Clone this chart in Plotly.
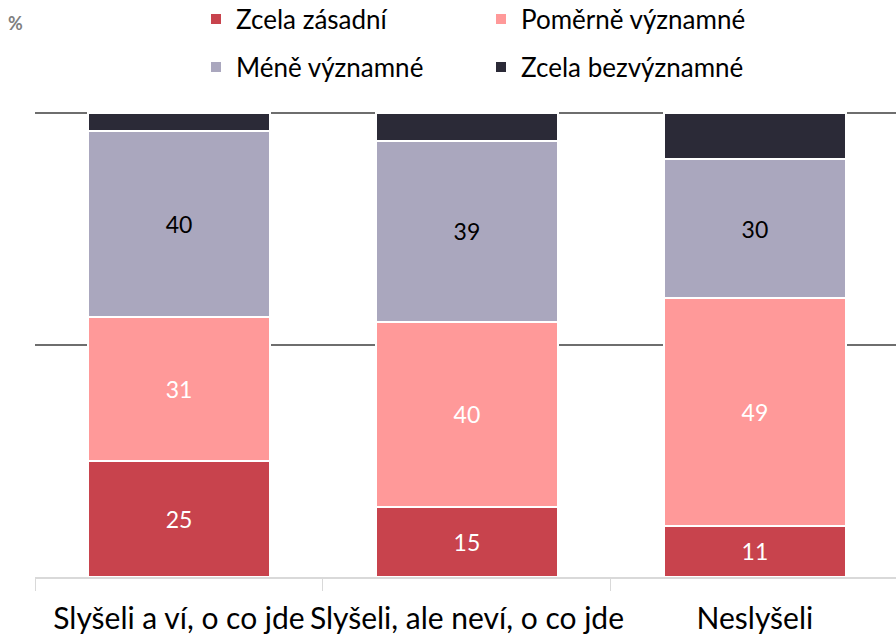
import plotly.graph_objects as go

categories = ["Slyšeli a ví, o co jde", "Slyšeli, ale neví, o co jde", "Neslyšeli"]
series_names = ["Zcela zásadní", "Poměrně významné", "Méně významné", "Zcela bezvýznamné"]
zcela_zasadni = [25, 15, 11]
pomerne_vyznamne = [31, 40, 49]
mene_vyznamne = [40, 39, 30]
zcela_bezvyznamne = [4, 6, 10]

colors = ["#C8434D", "#FF9999", "#AAA7BE", "#2B2A37"]
label_colors = ["white", "white", "black", "black"]
show_labels = [True, True, True, False]
legend_ids = ["legend", "legend", "legend2", "legend2"]
FONT = "Lato"

fig = go.Figure()
for name, vals, col, lc, show, lg in zip(
    series_names,
    [zcela_zasadni, pomerne_vyznamne, mene_vyznamne, zcela_bezvyznamne],
    colors, label_colors, show_labels, legend_ids,
):
    fig.add_trace(go.Bar(
        name=name,
        x=categories,
        y=vals,
        width=0.63,
        marker=dict(color=col, line=dict(color="white", width=2)),
        text=[str(v) for v in vals] if show else None,
        textposition="inside" if show else "none",
        insidetextanchor="middle",
        textfont=dict(color=lc, size=23, family=FONT),
        constraintext="none",
        legend=lg,
        hoverinfo="skip",
    ))

legend_common = dict(
    orientation="h",
    xanchor="left",
    yanchor="middle",
    xref="container",
    yref="container",
    font=dict(size=26, family=FONT, color="black"),
    bgcolor="rgba(0,0,0,0)",
    entrywidth=240,
    entrywidthmode="pixels",
    itemwidth=30,
    traceorder="normal",
)

fig.update_layout(
    width=896,
    height=636,
    margin=dict(l=35, r=0, t=108, b=59, autoexpand=False),
    paper_bgcolor="white",
    plot_bgcolor="white",
    barmode="stack",
    bargap=0.37,
    font=dict(family=FONT, color="black"),
    showlegend=True,
    legend=dict(x=196 / 896, y=1 - 19 / 636, **legend_common),
    legend2=dict(x=196 / 896, y=1 - 67 / 636, **legend_common),
    xaxis=dict(
        type="category",
        range=[-0.5, 2.49],
        showline=True,
        linecolor="#D9D9D9",
        linewidth=2,
        ticks="outside",
        tickson="boundaries",
        ticklen=12,
        tickcolor="#D9D9D9",
        tickwidth=1,
        tickangle=0,
        tickfont=dict(size=30, family=FONT, color="black"),
        ticklabelstandoff=14,
        showgrid=False,
    ),
    yaxis=dict(
        range=[0, 101],
        tickvals=[50, 100],
        showticklabels=False,
        showgrid=True,
        gridcolor="#6E6E6E",
        gridwidth=2,
        zeroline=False,
        showline=False,
        fixedrange=True,
    ),
    annotations=[dict(
        text="<b>%</b>", x=(6 - 35) / 861, y=(577 - 23) / 469,
        xref="paper", yref="paper",
        xanchor="left", yanchor="middle", showarrow=False,
        font=dict(size=18, color="#7F7F7F", family=FONT),
    )],
)

fig.write_html("out.html")
